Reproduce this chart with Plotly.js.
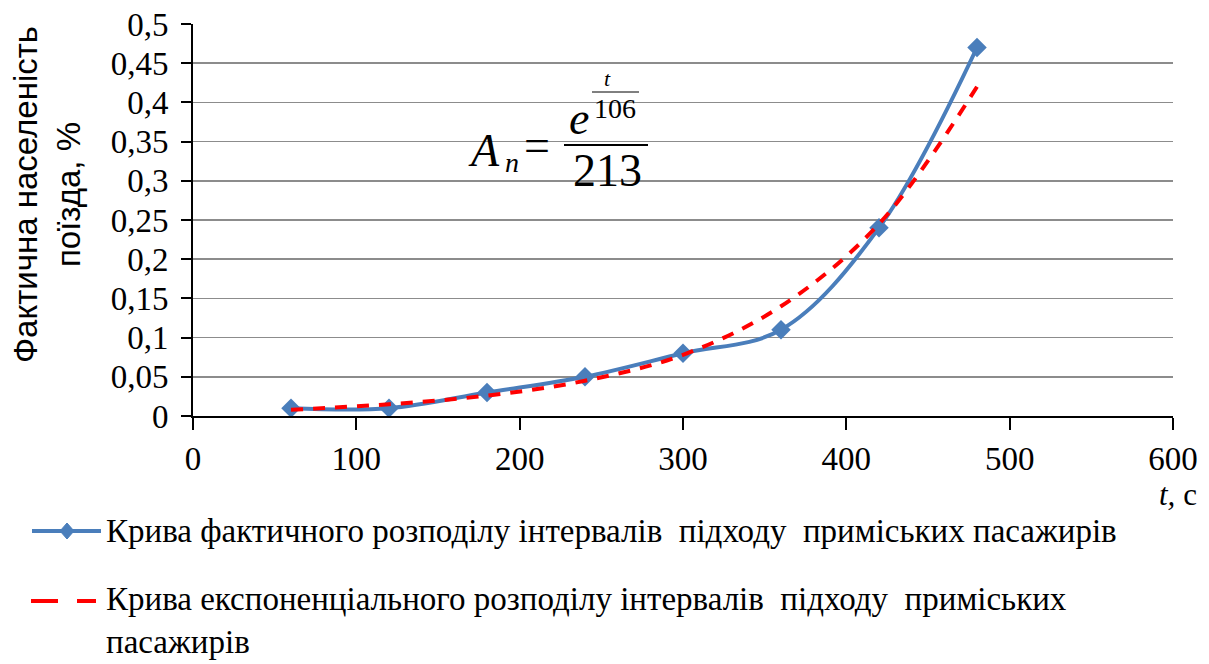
<!DOCTYPE html>
<html>
<head>
<meta charset="utf-8">
<script src="https://cdn.plot.ly/plotly-3.0.1.min.js"></script>
<style>html,body{margin:0;padding:0;background:#fff;}#chart{width:1209px;height:664px;}</style>
</head>
<body>
<div id="chart"></div>
<script>
// Data
const timeSec = [60, 120, 180, 240, 300, 360, 420, 480];
const actualShare = [0.010, 0.010, 0.030, 0.050, 0.080, 0.110, 0.240, 0.470];
const expShare = [0.008, 0.015, 0.026, 0.045, 0.078, 0.140, 0.245, 0.420];
const seriesNames = [
  'Крива фактичного розподілу інтервалів  підходу  приміських пасажирів',
  'Крива експоненціального розподілу інтервалів  підходу  приміських<br>пасажирів'
];
const yTitleLines = ['Фактична населеність', 'поїзда, %'];
const xTitle = '<i>t,</i> с';

const serif = 'Liberation Serif';
const sans = 'Liberation Sans';
const blue = '#4a7ebb';
const red = '#ff0000';

const W = 1209, H = 664;
const L = 193, R = 36, T = 24, B = 248;
const pw = W - L - R, ph = H - T - B;
const px = x => (x - L) / pw;
const py = y => (H - B - y) / ph;

const traces = [
  {
    x: timeSec, y: actualShare, name: seriesNames[0], type: 'scatter', mode: 'lines+markers',
    line: {color: blue, width: 4, shape: 'spline', smoothing: 1},
    marker: {symbol: 'diamond', size: 15, color: blue},
    showlegend: false
  },
  {
    x: timeSec, y: expShare, name: seriesNames[1].replace('<br>', ' '), type: 'scatter', mode: 'lines',
    line: {color: red, width: 4, dash: '12px,10px', shape: 'spline', smoothing: 1},
    showlegend: false
  }
];

const txt = (x, y, text, size, fam, xa, extra) => Object.assign({
  xref: 'paper', yref: 'paper', x: px(x), y: py(y), text: text, showarrow: false,
  xanchor: xa || 'center', yanchor: 'middle', font: {family: fam || serif, size: size, color: '#000'}
}, extra || {});

const annotations = [
  txt(47, 195, yTitleLines.join('<br>'), 33, sans, 'center', {textangle: -90}),
  txt(1199, 494, xTitle, 31, serif, 'right'),
  // formula
  txt(466, 150, '<i>A</i>', 46, serif, 'left'),
  txt(503, 162, '<i>n</i>', 28, serif, 'left'),
  txt(537, 145, '=', 46, serif, 'center'),
  txt(579, 118, '<i>e</i>', 46, serif, 'center'),
  txt(615, 108, '106', 28, serif, 'center'),
  txt(607, 78, '<i>t</i>', 22, serif, 'center'),
  txt(607, 170, '213', 46, serif, 'center'),
  // legend texts
  txt(104, 531, seriesNames[0], 33, serif, 'left'),
  txt(104, 620, seriesNames[1], 33, serif, 'left', {align: 'left'})
];

const dx = 7 / pw, dy = 8 / ph;
const cx = px(67), cy = py(531);
const shapes = [
  {type: 'line', xref: 'paper', yref: 'paper', x0: px(592), x1: px(639), y0: py(92), y1: py(92), line: {color: '#000', width: 1}},
  {type: 'line', xref: 'paper', yref: 'paper', x0: px(564), x1: px(648), y0: py(145), y1: py(145), line: {color: '#000', width: 2}},
  // legend symbols
  {type: 'line', xref: 'paper', yref: 'paper', x0: px(32), x1: px(101), y0: cy, y1: cy, line: {color: blue, width: 4}},
  {type: 'path', xref: 'paper', yref: 'paper',
   path: `M${cx - dx},${cy} L${cx},${cy + dy} L${cx + dx},${cy} L${cx},${cy - dy} Z`,
   fillcolor: blue, line: {color: blue, width: 1}},
  {type: 'line', xref: 'paper', yref: 'paper', x0: px(31), x1: px(58), y0: py(601), y1: py(601), line: {color: red, width: 4}},
  {type: 'line', xref: 'paper', yref: 'paper', x0: px(77), x1: px(96), y0: py(601), y1: py(601), line: {color: red, width: 4}}
];

const layout = {
  width: W, height: H,
  margin: {l: L, r: R, t: T, b: B, pad: 0, autoexpand: false},
  paper_bgcolor: '#fff', plot_bgcolor: '#fff',
  separators: ', ',
  showlegend: false,
  font: {family: serif, color: '#000'},
  xaxis: {
    range: [0, 600], dtick: 100, tick0: 0, showgrid: false, zeroline: false,
    showline: true, linecolor: '#000', linewidth: 2, ticks: 'outside', ticklen: 12, tickwidth: 2, tickcolor: '#000',
    tickfont: {family: serif, size: 33, color: '#000'}, fixedrange: true
  },
  yaxis: {
    range: [0, 0.5], dtick: 0.05, tick0: 0, showgrid: true, gridcolor: '#8c8c8c', gridwidth: 1.5, zeroline: false,
    showline: true, linecolor: '#000', linewidth: 2, ticks: 'outside', ticklen: 10, tickwidth: 2, tickcolor: '#000',
    tickfont: {family: serif, size: 33, color: '#000'}, ticklabelstandoff: 6, fixedrange: true
  },
  annotations: annotations,
  shapes: shapes
};

Plotly.newPlot('chart', traces, layout, {displayModeBar: false, staticPlot: true});
</script>
</body>
</html>
